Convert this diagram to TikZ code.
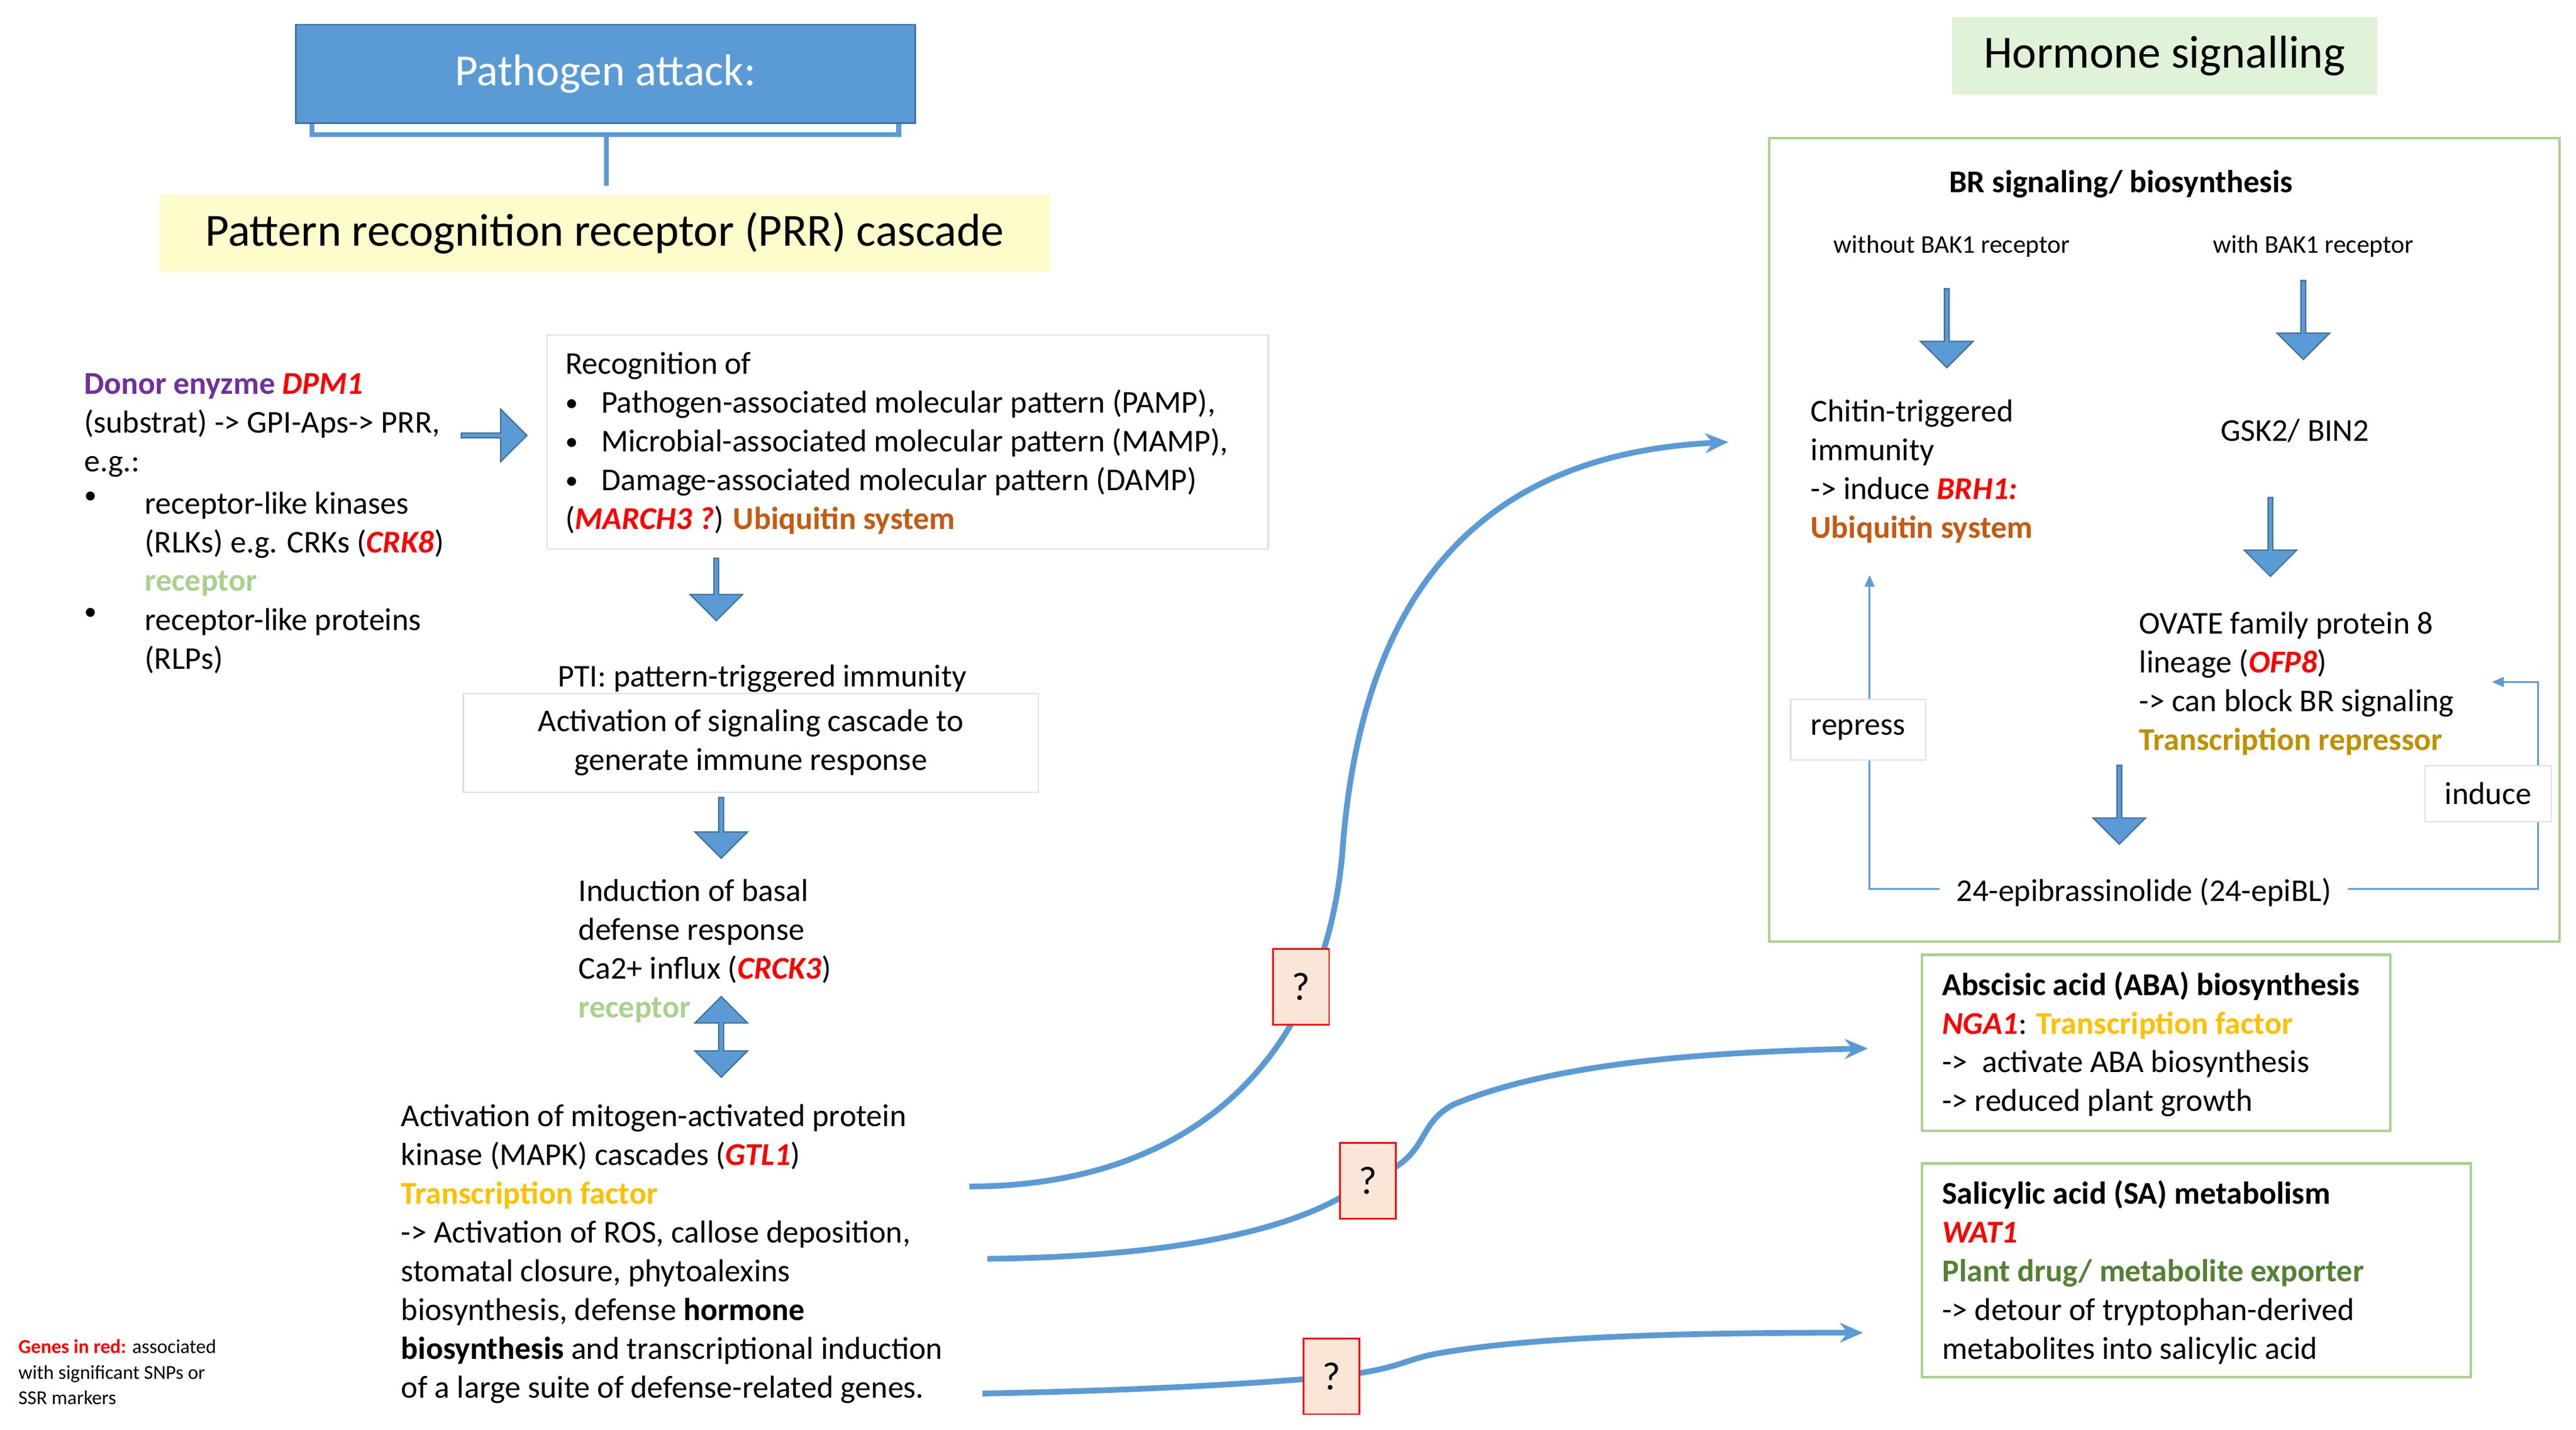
\documentclass[tikz,border=0pt]{standalone}
\usepackage{fontspec}
\setmainfont{Carlito}
\usetikzlibrary{shapes.arrows,arrows.meta}
\definecolor{bl}{HTML}{5B9BD5}
\definecolor{bld}{HTML}{41719C}
\definecolor{rd}{HTML}{FF0000}
\definecolor{pu}{HTML}{7030A0}
\definecolor{ub}{HTML}{C55A11}
\definecolor{lg}{HTML}{A9D18E}
\definecolor{go}{HTML}{FFC000}
\definecolor{dg}{HTML}{BF9000}
\definecolor{gr}{HTML}{548235}
\definecolor{qf}{HTML}{FBE5D6}
\newcommand{\gn}[1]{\textcolor{rd}{\textbf{\textit{#1}}}}
\newcommand{\sbul}{\raisebox{1pt}{\scalebox{0.8}{\textbullet}}}
\begin{document}
\begin{tikzpicture}[x=1pt,y=-1pt,
  txt/.style={inner sep=0pt,align=left,anchor=north west,font=\fontsize{19.3}{23.6}\selectfont},
  ctxt/.style={inner sep=0pt,align=center,font=\fontsize{19.3}{23.6}\selectfont},
  fat/.style={single arrow,fill=bl,draw=bld,line width=0.8pt,inner sep=0pt,minimum width=32pt,single arrow head extend=4pt,single arrow tip angle=90},
  cur/.style={draw=bl,line width=3.5pt},
  thin/.style={draw=bl,line width=1pt},
  q/.style={draw=rd,fill=qf,line width=1pt,minimum width=34pt,minimum height=46pt,font=\fontsize{24}{28}\selectfont},
  gbox/.style={draw=lg,line width=1.5pt},
  wbox/.style={draw=black!12,line width=0.8pt,fill=white}]
\useasboundingbox (0,0) rectangle (1568,870);
% top left
\draw[bl,line width=3pt] (190,75) -- (190,82) -- (547,82) -- (547,75) (369,82) -- (369,113);
\node[fill=bl,draw=bld,line width=1pt,minimum width=377pt,minimum height=60pt,text=white,font=\fontsize{27}{31}\selectfont] (pa) at (368.5,45) {Pathogen attack:};
\node[fill=yellow!20,minimum width=542pt,minimum height=47pt,font=\fontsize{28}{32}\selectfont] (prr) at (368,142) {Pattern recognition receptor (PRR) cascade};
\node[fill=green!10!lg!30,minimum width=259pt,minimum height=47pt,font=\fontsize{28}{32}\selectfont] (hs) at (1317.5,34) {Hormone signalling};
% donor
\node[txt] (don) at (51,227) {\textcolor{pu}{\textbf{Donor enyzme}} \gn{DPM1}\\(substrat) -> GPI-Aps-> PRR,\\e.g.:};
\node[txt] (b1) at (51,299) {\sbul};
\node[txt] (b1t) at (88,299) {receptor-like kinases\\(RLKs) e.g. CRKs (\gn{CRK8})\\\textcolor{lg}{\textbf{receptor}}};
\node[txt] (b2) at (51,370) {\sbul};
\node[txt] (b2t) at (88,370) {receptor-like proteins\\(RLPs)};
\node[fat,minimum height=40pt] (a0) at (300,265) {};
% recognition
\node[wbox,minimum width=439pt,minimum height=130pt] (rec) at (552.5,269) {};
\node[txt] (rect) at (344,214) {Recognition of\\\sbul\hspace{14pt}Pathogen-associated molecular pattern (PAMP),\\\sbul\hspace{14pt}Microbial-associated molecular pattern (MAMP),\\\sbul\hspace{14pt}Damage-associated molecular pattern (DAMP)\\(\gn{MARCH3 ?}) \textcolor{ub}{\textbf{Ubiquitin system}}};
\node[fat,minimum height=38pt,rotate=-90] (a1) at (436,358) {};
\node[ctxt] (pti) at (464,413) {PTI: pattern-triggered immunity};
\node[wbox,minimum width=350pt,minimum height=60pt,ctxt] (act) at (457,452) {Activation of signaling cascade to\\generate immune response};
\node[fat,minimum height=37pt,rotate=-90] (a2) at (439,503) {};
\node[txt] (ind) at (352,535) {Induction of basal\\defense response\\Ca2+ influx (\gn{CRCK3})\\\textcolor{lg}{\textbf{receptor}}};
\node[double arrow,fill=bl,draw=bld,line width=0.8pt,inner sep=0pt,minimum width=32pt,double arrow head extend=4pt,double arrow tip angle=90,minimum height=49pt,rotate=90] (a3) at (439,631) {};
\node[txt] (mapk) at (244,672) {Activation of mitogen-activated protein\\kinase (MAPK) cascades (\gn{GTL1})\\\textcolor{go}{\textbf{Transcription factor}}\\-> Activation of ROS, callose deposition,\\stomatal closure, phytoalexins\\biosynthesis, defense \textbf{hormone}\\\textbf{biosynthesis} and transcriptional induction\\of a large suite of defense-related genes.};
\node[inner sep=0pt,align=left,anchor=north west,font=\fontsize{12}{15.5}\selectfont] (foot) at (11,815) {\textcolor{rd}{\textbf{Genes in red:}} associated\\with significant SNPs or\\SSR markers};
% BR box
\node[gbox,minimum width=481pt,minimum height=489pt] (br) at (1317.5,328.5) {};
\node[ctxt] (brt) at (1291,112) {\textbf{BR signaling/ biosynthesis}};
\node[ctxt,font=\fontsize{15.5}{19}\selectfont] (wo) at (1188,150) {without BAK1 receptor};
\node[ctxt,font=\fontsize{15.5}{19}\selectfont] (wi) at (1408,150) {with BAK1 receptor};
\node[fat,minimum height=48pt,rotate=-90] (a4) at (1185,199) {};
\node[fat,minimum height=48pt,rotate=-90] (a5) at (1402,194) {};
\node[txt] (chi) at (1102,243) {Chitin-triggered\\immunity\\-> induce \gn{BRH1:}\\\textcolor{ub}{\textbf{Ubiquitin system}}};
\node[ctxt] (gsk) at (1397,262) {GSK2/ BIN2};
\node[fat,minimum height=48pt,rotate=-90] (a6) at (1382,326) {};
\node[txt] (ova) at (1302,372) {OVATE family protein 8\\lineage (\gn{OFP8})\\-> can block BR signaling\\\textcolor{dg}{\textbf{Transcription repressor}}};
\node[fat,minimum height=48pt,rotate=-90] (a7) at (1290,489) {};
\node[ctxt,inner xsep=10pt] (epi) at (1305,543) {24-epibrassinolide (24-epiBL)};
\coordinate (r1) at (1138,350);
\coordinate (r2) at (1517,415);
\draw[thin,-{Triangle[length=7pt,width=6pt]}] (epi.west |- 1178,541) -- (1138,541) -- (r1);
\draw[thin,-{Triangle[length=7pt,width=6pt]}] (epi.east |- 1422,541) -- (1545,541) -- (1545,415) -- (r2);
\node[wbox,minimum width=82pt,minimum height=37pt,ctxt] (rep) at (1131,444) {repress};
\node[wbox,minimum width=77pt,minimum height=34pt,ctxt] (indc) at (1514.5,483) {induce};
% ABA, SA
\node[gbox,minimum width=285pt,minimum height=107pt] (aba) at (1312.5,634.5) {};
\node[txt] (abat) at (1182,591) {\textbf{Abscisic acid (ABA) biosynthesis}\\\gn{NGA1}: \textcolor{go}{\textbf{Transcription factor}}\\->\ \ activate ABA biosynthesis\\-> reduced plant growth};
\node[gbox,minimum width=334pt,minimum height=130pt] (sa) at (1337,773) {};
\node[txt] (sat) at (1182,718) {\textbf{Salicylic acid (SA) metabolism}\\\gn{WAT1}\\\textcolor{gr}{\textbf{Plant drug/ metabolite exporter}}\\-> detour of tryptophan-derived\\metabolites into salicylic acid};
% curves
\coordinate (c1s) at (590,722); \coordinate (c1e) at (1052,269);
\coordinate (c2s) at (601,766); \coordinate (c2e) at (1137,638);
\coordinate (c3s) at (598,848); \coordinate (c3e) at (1134,811);
\draw[cur,-{Stealth[length=14pt,width=12pt]}] (c1s) .. controls (720,722) and (805,650) .. (817,520) .. controls (830,330) and (930,275) .. (c1e);
\draw[cur,-{Stealth[length=14pt,width=12pt]}] (c2s) .. controls (700,765) and (790,752) .. (832,718) .. controls (872,705) and (860,685) .. (885,672) .. controls (950,645) and (1050,640) .. (c2e);
\draw[cur,-{Stealth[length=14pt,width=12pt]}] (c3s) .. controls (700,846) and (760,842) .. (810,838) .. controls (860,832) and (850,827) .. (885,822) .. controls (950,812) and (1050,811) .. (c3e);
\node[q] (q1) at (792,600.5) {?};
\node[q] (q2) at (832.5,718.5) {?};
\node[q] (q3) at (810.5,837.5) {?};
\end{tikzpicture}
\end{document}
